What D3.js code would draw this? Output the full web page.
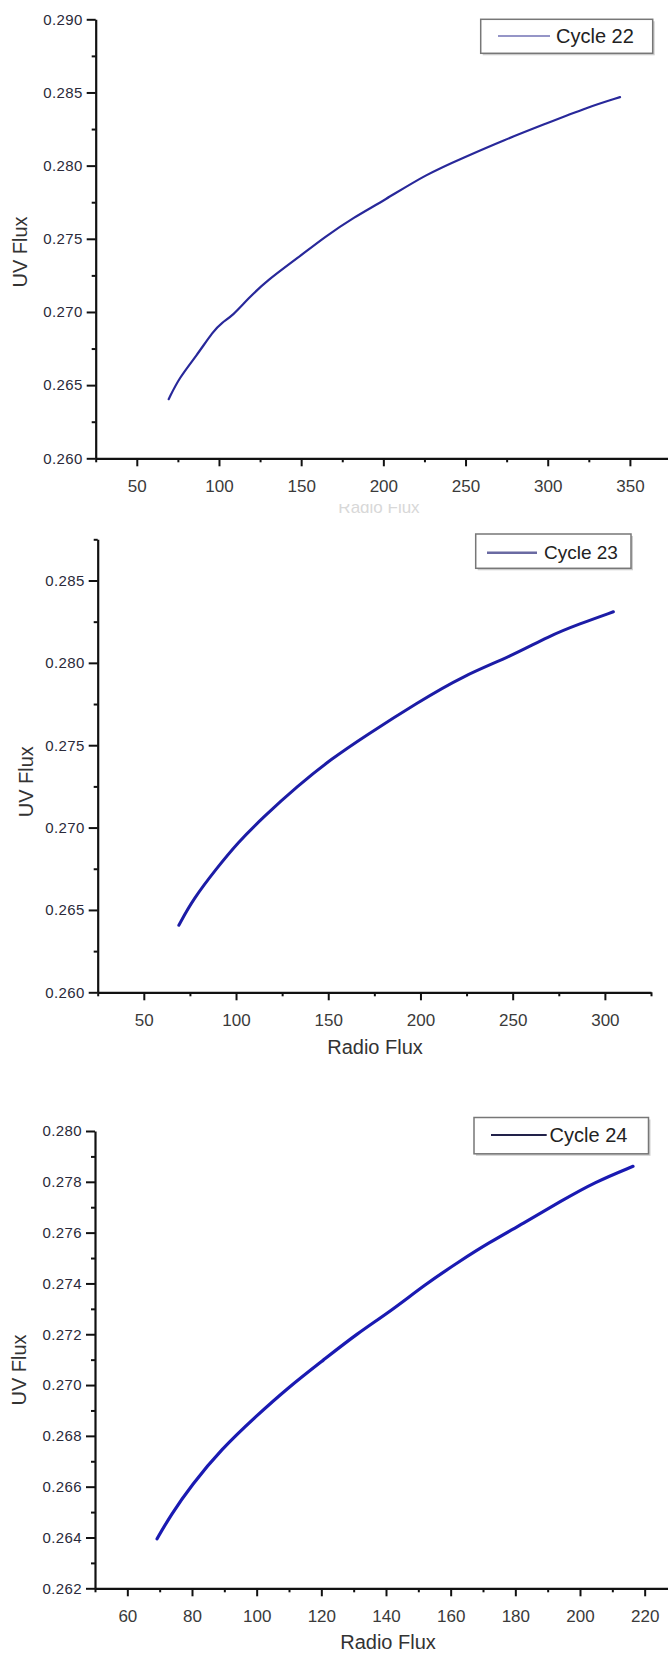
<!DOCTYPE html>
<html>
<head>
<meta charset="utf-8">
<script src="https://cdn.jsdelivr.net/npm/d3@7"></script>
<style>
  body { margin: 0; background: #fff; }
  svg { display: block; font-family: "Liberation Sans", Arial, sans-serif; }
</style>
</head>
<body>
<svg id="chart" width="668" height="1653"></svg>
<script>
// data
const cycle22Radio = [69.4, 75.9, 86.3, 96.6, 101.8, 108.3, 117.4, 129, 148.4, 164, 182, 200.3, 226.2, 249.5, 272.8, 298.7, 324.6, 344];
const cycle22UV    = [0.26404, 0.26552, 0.2670, 0.26871, 0.26928, 0.26974, 0.27088, 0.27213, 0.27373, 0.2751, 0.27647, 0.27761, 0.27943, 0.28058, 0.28172, 0.28286, 0.2840, 0.28468];

const cycle23Radio = [69, 76.6, 89.4, 100.9, 114.8, 133.3, 151.9, 170.4, 198.1, 223.6, 249, 269.9, 286.1, 304.6];
const cycle23UV    = [0.26407, 0.26563, 0.26751, 0.26908, 0.27064, 0.27252, 0.27419, 0.27559, 0.27757, 0.27924, 0.28039, 0.28164, 0.28236, 0.2831];

const cycle24Radio = [69.2, 73.4, 79.9, 89.1, 99.6, 110.1, 120.6, 131.1, 141.6, 152.1, 162.6, 171.8, 182.3, 194.1, 204.6, 216.4];
const cycle24UV    = [0.26395, 0.26488, 0.26607, 0.26748, 0.26875, 0.26994, 0.27098, 0.27203, 0.27292, 0.27396, 0.27486, 0.2756, 0.27635, 0.27724, 0.27799, 0.27861];

const xTicks22 = [50, 100, 150, 200, 250, 300, 350];
const yTicks22 = [0.260, 0.265, 0.270, 0.275, 0.280, 0.285, 0.290];
const xTicks23 = [50, 100, 150, 200, 250, 300];
const yTicks23 = [0.260, 0.265, 0.270, 0.275, 0.280, 0.285];
const xTicks24 = [60, 80, 100, 120, 140, 160, 180, 200, 220];
const yTicks24 = [0.262, 0.264, 0.266, 0.268, 0.270, 0.272, 0.274, 0.276, 0.278, 0.280];

const legendNames = ["Cycle 22", "Cycle 23", "Cycle 24"];
const xTitle = "Radio Flux";
const yTitle = "UV Flux";

// panel layout (pixel positions only)
const panels = [
  { name: legendNames[0], xs: cycle22Radio, ys: cycle22UV, xTicks: xTicks22, yTicks: yTicks22,
    xDom: [25, 375], yDom: [0.260, 0.290], left: 95.7, right: 671, top: 19.3, bottom: 458.3,
    xStep: 25, yStep: 0.0025,
    lineColor: "#28289a", lineW: 2.2, legColor: "#7272b4", legW: 1.6,
    leg: { x0: 480.7, x1: 652.7, y0: 19.3, y1: 53.3, l0: 498, l1: 550, ly: 36, tx: 556, fs: 20 },
    yTitle: [20, 252], xTitlePos: [379, 513], xTitleHidden: true },
  { name: legendNames[1], xs: cycle23Radio, ys: cycle23UV, xTicks: xTicks23, yTicks: yTicks23,
    xDom: [25, 325], yDom: [0.260, 0.2875], left: 97.7, right: 651, top: 539.3, bottom: 992.3,
    xStep: 25, yStep: 0.0025,
    lineColor: "#1c1ca6", lineW: 3, legColor: "#6a6aa2", legW: 2.4,
    leg: { x0: 475.7, x1: 631, y0: 534, y1: 568.3, l0: 487, l1: 537, ly: 552.7, tx: 544, fs: 19 },
    yTitle: [26.4, 781.7], xTitlePos: [375, 1054] },
  { name: legendNames[2], xs: cycle24Radio, ys: cycle24UV, xTicks: xTicks24, yTicks: yTicks24,
    xDom: [50, 230], yDom: [0.262, 0.280], left: 95, right: 677, top: 1131, bottom: 1588.3,
    xStep: 10, yStep: 0.001,
    lineColor: "#1a1ab2", lineW: 3.2, legColor: "#22224a", legW: 2,
    leg: { x0: 474, x1: 648.5, y0: 1117.5, y1: 1153.8, l0: 491, l1: 546.7, ly: 1134.9, tx: 549.6, fs: 20 },
    yTitle: [19, 1370], xTitlePos: [388, 1649] }
];

const svg = d3.select("#chart");
svg.append("rect").attr("width", 668).attr("height", 1653).attr("fill", "#fff");

function minorValues(dom, step, majors) {
  const out = [];
  const n = Math.round((dom[1] - dom[0]) / step);
  for (let i = 0; i <= n; i++) {
    const v = +(dom[0] + i * step).toFixed(6);
    if (!majors.some(m => Math.abs(m - v) < step / 10)) out.push(v);
  }
  return out;
}

panels.forEach((p, idx) => {
  const x = d3.scaleLinear().domain(p.xDom).range([p.left, p.right]);
  const y = d3.scaleLinear().domain(p.yDom).range([p.bottom, p.top]);
  const g = svg.append("g").attr("class", "panel" + idx);

  // minor ticks
  g.append("g")
    .attr("transform", `translate(0,${p.bottom})`)
    .call(d3.axisBottom(x).tickValues(minorValues(p.xDom, p.xStep, p.xTicks)).tickSize(4).tickSizeOuter(0).tickFormat(""))
    .call(a => a.select(".domain").remove());
  g.append("g")
    .attr("transform", `translate(${p.left},0)`)
    .call(d3.axisLeft(y).tickValues(minorValues(p.yDom, p.yStep, p.yTicks)).tickSize(4).tickSizeOuter(0).tickFormat(""))
    .call(a => a.select(".domain").remove());

  // major axes
  const xa = g.append("g")
    .attr("transform", `translate(0,${p.bottom})`)
    .call(d3.axisBottom(x).tickValues(p.xTicks).tickSize(8).tickSizeOuter(0).tickPadding(14).tickFormat(d3.format("d")));
  const ya = g.append("g")
    .attr("transform", `translate(${p.left},0)`)
    .call(d3.axisLeft(y).tickValues(p.yTicks).tickSize(9).tickSizeOuter(0).tickPadding(4).tickFormat(d3.format(".3f")));

  g.selectAll(".tick line").attr("stroke", "#111").attr("stroke-width", 2);
  g.selectAll(".domain").attr("stroke", "#111").attr("stroke-width", 2.2);
  xa.selectAll("text").attr("font-size", 17).attr("fill", "#3a3a3a").attr("font-family", "Liberation Sans, Arial, sans-serif");
  ya.selectAll("text").attr("font-size", 15).attr("fill", "#2a2a3a").attr("letter-spacing", 0.4)
    .attr("font-family", "Liberation Sans, Arial, sans-serif");

  // curve
  const pts = p.xs.map((v, i) => [v, p.ys[i]]);
  g.append("path")
    .datum(pts)
    .attr("fill", "none")
    .attr("stroke", p.lineColor)
    .attr("stroke-width", p.lineW)
    .attr("stroke-linejoin", "round")
    .attr("stroke-linecap", "round")
    .attr("d", d3.line().x(d => x(d[0])).y(d => y(d[1])).curve(d3.curveBasis));

  // legend
  const L = p.leg;
  g.append("rect")
    .attr("x", L.x0 + 2).attr("y", L.y0 + 2)
    .attr("width", L.x1 - L.x0).attr("height", L.y1 - L.y0)
    .attr("fill", "#cfcfcf");
  g.append("rect")
    .attr("x", L.x0).attr("y", L.y0)
    .attr("width", L.x1 - L.x0).attr("height", L.y1 - L.y0)
    .attr("fill", "#fff").attr("stroke", "#777").attr("stroke-width", 1.5);
  g.append("line")
    .attr("x1", L.l0).attr("x2", L.l1).attr("y1", L.ly).attr("y2", L.ly)
    .attr("stroke", p.legColor).attr("stroke-width", p.legW);
  g.append("text")
    .attr("x", L.tx).attr("y", L.ly).attr("dy", "0.35em")
    .attr("font-size", L.fs).attr("fill", "#222")
    .text(p.name);

  // axis titles
  g.append("text")
    .attr("transform", `translate(${p.yTitle[0]},${p.yTitle[1]}) rotate(-90)`)
    .attr("text-anchor", "middle").attr("dy", "0.35em")
    .attr("font-size", 20).attr("fill", "#333")
    .text(yTitle);

  if (p.xTitleHidden) {
    // the first panel's x title is mostly covered in the source image
    svg.append("clipPath").attr("id", "clipTitle22")
      .append("rect").attr("x", 0).attr("y", p.xTitlePos[1] - 9).attr("width", 668).attr("height", 20);
    g.append("text")
      .attr("x", p.xTitlePos[0]).attr("y", p.xTitlePos[1]).attr("text-anchor", "middle")
      .attr("font-size", 17).attr("fill", "#d8d8d8")
      .attr("clip-path", "url(#clipTitle22)")
      .text(xTitle);
  } else {
    g.append("text")
      .attr("x", p.xTitlePos[0]).attr("y", p.xTitlePos[1]).attr("text-anchor", "middle")
      .attr("font-size", 20).attr("fill", "#333")
      .text(xTitle);
  }
});
</script>
</body>
</html>
